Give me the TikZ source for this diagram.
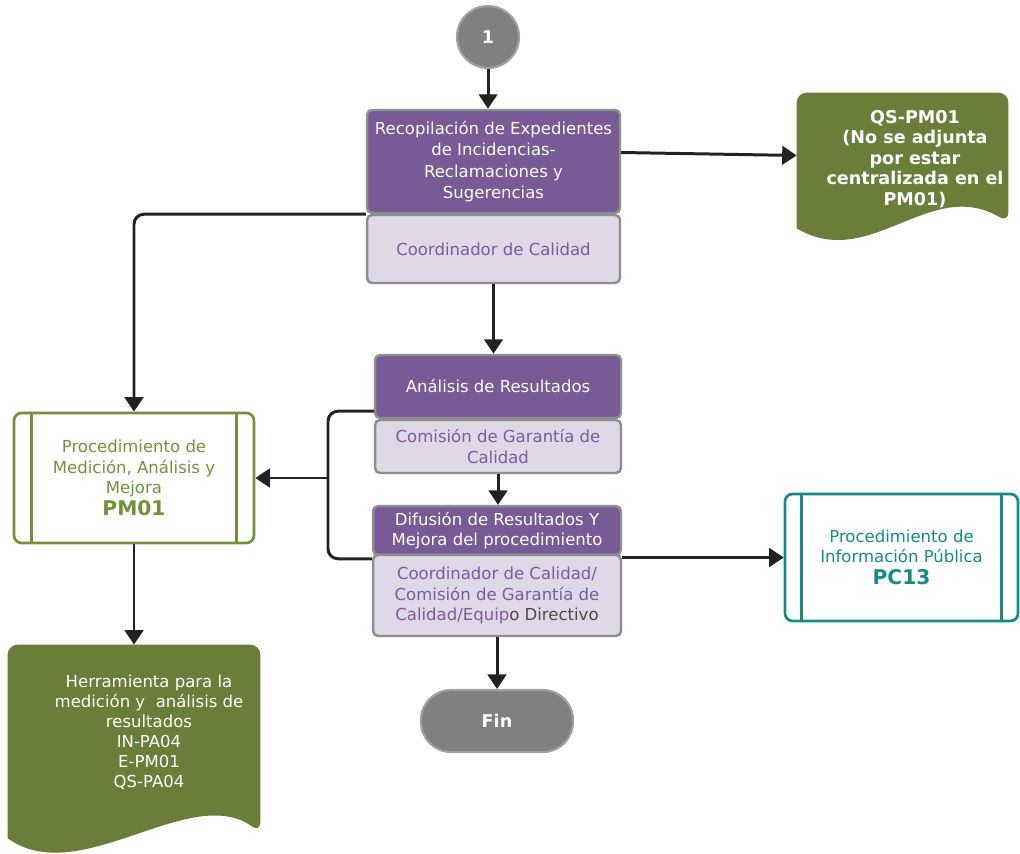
\documentclass[tikz,border=0pt]{standalone}
\usepackage{fontspec}
\setmainfont{DejaVu Sans}
\usetikzlibrary{arrows.meta}

\definecolor{headpurple}{HTML}{775A96}
\definecolor{rolelavender}{HTML}{DFD8E7}
\definecolor{roletext}{HTML}{7A5C9E}
\definecolor{boxgray}{HTML}{8E8E8E}
\definecolor{docgreen}{HTML}{6A7E3A}
\definecolor{procgreen}{HTML}{73913D}
\definecolor{procteal}{HTML}{168A84}
\definecolor{termgray}{HTML}{808080}
\definecolor{termborder}{HTML}{A0A0A0}
\definecolor{linedark}{HTML}{222222}
\definecolor{darktext}{HTML}{4A4A4A}

\begin{document}
\begin{tikzpicture}[
  x=0.02cm, y=-0.02cm,
  headnode/.style={rectangle, rounded corners=0.1cm, draw=boxgray, line width=1.4pt, fill=headpurple, text=white, align=center, font=\fontsize{9.4}{12.2}\selectfont},
  rolenode/.style={rectangle, rounded corners=0.1cm, draw=boxgray, line width=1.4pt, fill=rolelavender, text=roletext, align=center, font=\fontsize{9.4}{11.8}\selectfont},
  procnode/.style={rectangle, rounded corners=0.15cm, line width=1.5pt, fill=white, align=center, font=\fontsize{9.4}{11.6}\selectfont},
  termnode/.style={rectangle, draw=termborder, line width=1.2pt, fill=termgray, text=white, font=\fontsize{10}{12}\selectfont\bfseries},
  docframe/.style={rectangle, inner sep=0pt},
  doctext/.style={text=white, align=center},
  arrow/.style={-{Triangle[length=0.29cm,width=0.37cm]}, line width=1.7pt, draw=linedark},
  line/.style={line width=1.7pt, draw=linedark},
]
\useasboundingbox (0,0) rectangle (1020,854);

% terminals
\node[termnode, circle, minimum size=1.24cm] (start) at (488,37) {1};
\node[termnode, rounded corners=0.6cm, minimum width=3.04cm, minimum height=1.24cm] (fin) at (497,721) {Fin};

% activities
\node[headnode, minimum width=5.06cm, minimum height=2.06cm] (rectop) at (493.5,161.5)
  {Recopilación de Expedientes\\de Incidencias-\\Reclamaciones y\\Sugerencias};
\node[rolenode, minimum width=5.06cm, minimum height=1.36cm] (recbot) at (493.5,249) {Coordinador de Calidad};

\node[headnode, minimum width=4.92cm, minimum height=1.26cm] (anatop) at (498,386.5) {Análisis de Resultados};
\node[rolenode, minimum width=4.92cm, minimum height=1.06cm] (anabot) at (498,446.5) {Comisión de Garantía de\\Calidad};

\node[headnode, minimum width=4.96cm, minimum height=0.9cm, font=\fontsize{9.4}{11.6}\selectfont] (diftop) at (497,530.5)
  {Difusión de Resultados Y\\Mejora del procedimiento};
\node[rolenode, minimum width=4.96cm, minimum height=1.62cm] (difbot) at (497,595.5)
  {Coordinador de Calidad/\\Comisión de Garantía de\\Calidad/Equip\textcolor{darktext}{o Directivo}};

% related procedures
\node[procnode, draw=procgreen, text=procgreen, minimum width=4.8cm, minimum height=2.6cm] (pm) at (134,478)
  {Procedimiento de\\Medición, Análisis y\\Mejora\\[1pt]{\fontsize{11.5}{13}\selectfont\bfseries PM01}};
\draw[procgreen, line width=1.5pt] ([xshift=0.38cm]pm.north west) -- ([xshift=0.38cm]pm.south west);
\draw[procgreen, line width=1.5pt] ([xshift=-0.38cm]pm.north east) -- ([xshift=-0.38cm]pm.south east);

\node[procnode, draw=procteal, text=procteal, minimum width=4.66cm, minimum height=2.54cm] (pc) at (901.5,557.5)
  {Procedimiento de\\Información Pública\\[1pt]{\fontsize{11.5}{13}\selectfont\bfseries PC13}};
\draw[procteal, line width=1.5pt] ([xshift=0.36cm]pc.north west) -- ([xshift=0.36cm]pc.south west);
\draw[procteal, line width=1.5pt] ([xshift=-0.36cm]pc.north east) -- ([xshift=-0.36cm]pc.south east);

% documents
\node[docframe, minimum width=4.22cm, minimum height=2.7cm] (qs) at (902.5,160.5) {};
\fill[docgreen, rounded corners=0.2cm] (qs.south west) -- (qs.north west) -- (qs.north east) -- ([yshift=0.12cm]qs.south east)
  [sharp corners] .. controls (930,176) and (870,272) .. (qs.south west) -- cycle;
\node[doctext, font=\fontsize{10}{11.6}\selectfont\bfseries] (qstext) at (915,159)
  {QS-PM01\\(No se adjunta\\por estar\\centralizada en el\\PM01)};

\node[docframe, minimum width=5.04cm, minimum height=3.86cm] (tool) at (134,741.5) {};
\fill[docgreen, rounded corners=0.2cm] (tool.south west) -- (tool.north west) -- (tool.north east) -- ([yshift=0.12cm]tool.south east)
  [sharp corners] .. controls (190,782) and (80,890) .. (tool.south west) -- cycle;
\node[doctext, font=\fontsize{9.4}{11.4}\selectfont] (tooltext) at (149,732)
  {Herramienta para la\\medición y~ análisis de\\resultados\\IN-PA04\\E-PM01\\QS-PA04};

% connectors
\draw[arrow] (start.south) -- (start.south |- rectop.north);
\draw[arrow] ([yshift=0.18cm]rectop.east) -- ([yshift=0.1cm]qs.west);
\draw[arrow, rounded corners=0.2cm] (rectop.south west) -| (pm.north);
\draw[arrow] (recbot.south) -- (recbot.south |- anatop.north);
\draw[arrow] (anabot.south) -- (anabot.south |- diftop.north);
\draw[arrow] (difbot.south) -- (fin.north);
\draw[arrow] (difbot.north east |- pc.west) -- (pc.west);
\draw[arrow] (pm.south) -- (tool.north);

\coordinate (brk) at (328,478);
\draw[line, rounded corners=0.2cm] ([yshift=0.16cm]anatop.south west) -| (brk) |- ([yshift=-0.1cm]difbot.north west);
\draw[arrow] (brk) -- (pm.east);

\end{tikzpicture}
\end{document}
